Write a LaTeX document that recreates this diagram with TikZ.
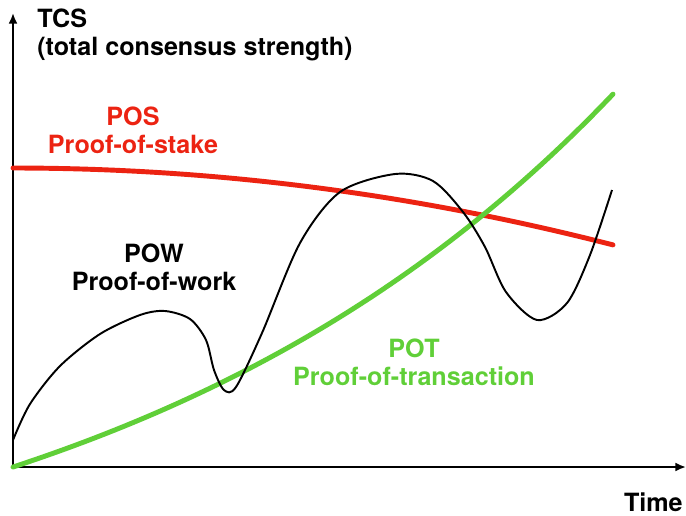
\documentclass[tikz,border=0pt]{standalone}
\usepackage{fontspec}
\setmainfont{TeX Gyre Heros}
\usetikzlibrary{arrows.meta}

\definecolor{posred}{RGB}{236,35,18}
\definecolor{potgreen}{RGB}{96,207,56}

\begin{document}
\begin{tikzpicture}[x=0.02cm, y=-0.02cm,
          tagtext/.style={font=\bfseries\fontsize{14.3}{16}\selectfont, inner sep=0pt, anchor=base},
          axisline/.style={line width=1.1pt, -{Latex[length=6pt,width=5pt]}},
          crayon/.style={line width=2.8pt, line cap=round},
        ]
          \useasboundingbox (0,0) rectangle (686,515);
          \coordinate (origin) at (13,467);
          \coordinate (ytop)   at (13,13);
          \coordinate (xend)   at (686,467);
          \draw[axisline] (origin) -- (ytop);
          \draw[axisline] (origin) -- (xend);
          % axis labels
          \node[tagtext, anchor=base west] (tcs)     at (37,27)  {TCS};
          \node[tagtext, anchor=base west] (tcsfull) at (37,55)  {(total consensus strength)};
          \node[tagtext, anchor=base east] (time)    at (683,511) {Time};
          % curves
          \draw[crayon, posred] plot[domain=13:613, samples=60]
            (\x, {168+0.000214*(\x-13)*(\x-13)});
          \draw[crayon, potgreen] plot[domain=13:613, samples=60]
            (\x, {467-169.6*(exp(0.001941*(\x-13))-1)});
          \draw[line width=1.1pt] plot[smooth] coordinates
            {(13,440) (30,404) (60,366) (100,334) (140,315) (165,311) (190,319) (206,340) (214,370) (224,390) (236,387) (262,333) (300,243) (340,192) (395,174) (433,181) (463,212) (485,247) (506,292) (537,320) (567,303) (590,255) (612,190)};
          % curve labels
          \node[tagtext, posred]   (pos)     at (133,125) {POS};
          \node[tagtext, posred]   (posname) at (133,153) {Proof-of-stake};
          \node[tagtext]           (pow)     at (154,262) {POW};
          \node[tagtext]           (powname) at (154,290) {Proof-of-work};
          \node[tagtext, potgreen] (pot)     at (414,357) {POT};
          \node[tagtext, potgreen] (potname) at (414,385) {Proof-of-transaction};
        \end{tikzpicture}
\end{document}
